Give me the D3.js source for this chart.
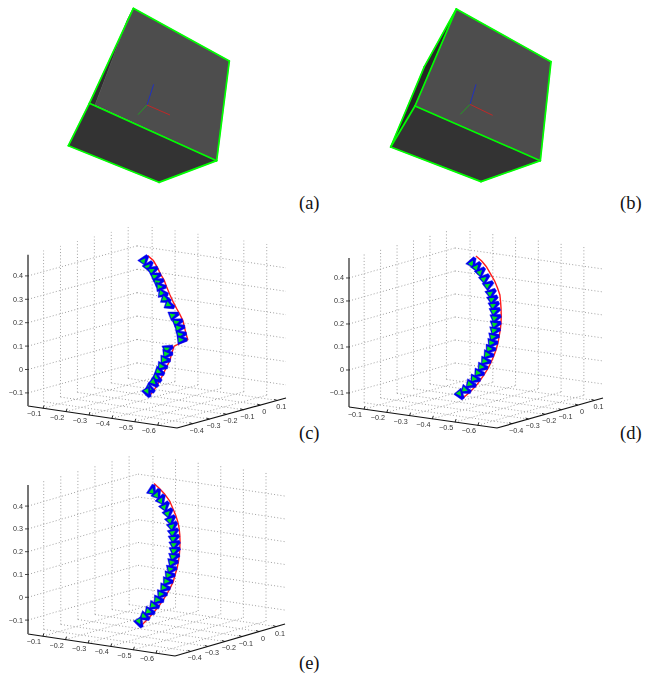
<!DOCTYPE html>
<html>
<head>
<meta charset="utf-8">
<script src="https://cdn.jsdelivr.net/npm/d3@7"></script>
<style>
  body { margin: 0; background: #fff; }
  svg { display: block; }
  .soft { filter: blur(0.4px); }
</style>
</head>
<body>
<svg id="chart" width="655" height="673"></svg>
<script>
// tick labels shared by the three trajectory plots
const xTicks = [-0.1, -0.2, -0.3, -0.4, -0.5, -0.6];
const yTicks = [-0.4, -0.3, -0.2, -0.1, 0, 0.1];
const zTicks = [-0.1, 0, 0.1, 0.2, 0.3, 0.4];

// cube outlines (a 0-600 unit box for each cube)
const cubeAX = [250, 538, 500, 327, 55, 118, 135, 232];
const cubeAY = [25, 183, 482, 547, 437, 310, 315, 60];
const cubeAFaces = [[0, 7, 6, 5], [4, 5, 2, 3], [0, 1, 2, 6, 7]];
const cubeAEdges = [[0, 1], [1, 2], [2, 3], [3, 4], [4, 5], [5, 0], [5, 2]];
const cubeAOrigin = [291, 315], cubeABlue = [311, 253], cubeARed = [360, 345], cubeAGreen = [264, 344];

const cubeBX = [259, 543, 511, 333, 62, 135, 163];
const cubeBY = [27, 185, 482, 545, 441, 318, 200];
const cubeBFaces = [[0, 5, 4, 6], [4, 5, 2, 3], [0, 1, 2, 5]];
const cubeBEdges = [[0, 1], [1, 2], [2, 3], [3, 4], [4, 6], [6, 0], [0, 5], [5, 4], [5, 2]];
const cubeBOrigin = [300, 313], cubeBBlue = [318, 253], cubeBRed = [368, 346], cubeBGreen = [271, 343];

// trajectory (c): camera centres and the red path, x and z as seen against the axes
const camCX = [-.543, -.562, -.581, -.594, -.606, -.616, -.625, -.638, -.654, -.672, -.689, -.698, -.705, -.708, -.647, -.645, -.635, -.623, -.610, -.599, -.587, -.569, -.558];
const camCZ = [.469, .444, .426, .400, .376, .354, .326, .301, .276, .233, .204, .180, .151, .128, .090, .068, .042, .014, -.010, -.036, -.056, -.082, -.096];
const pathCX = [-.559, -.584, -.602, -.616, -.631, -.642, -.657, -.672, -.686, -.698, -.713, -.720, -.727, -.735, -.675, -.664, -.657, -.642, -.628, -.613, -.599, -.584, -.566];
const pathCZ = [.487, .466, .436, .407, .383, .354, .319, .287, .261, .240, .211, .183, .154, .128, .100, .068, .040, .011, -.018, -.046, -.068, -.092, -.113];

// trajectory (d)
const camDX = [-.573, -.594, -.611, -.629, -.645, -.657, -.664, -.670, -.674, -.677, -.677, -.674, -.669, -.663, -.654, -.645, -.633, -.619, -.604, -.587, -.568, -.546, -.521];
const camDZ = [.468, .450, .428, .399, .370, .336, .309, .283, .257, .228, .200, .173, .145, .119, .092, .067, .039, .013, -.013, -.039, -.062, -.087, -.106];
const pathDX = [-.591, -.616, -.636, -.655, -.673, -.686, -.696, -.699, -.701, -.702, -.701, -.698, -.693, -.688, -.680, -.670, -.658, -.645, -.629, -.611, -.591, -.566, -.533];
const pathDZ = [.496, .474, .450, .418, .387, .355, .326, .297, .268, .236, .206, .177, .148, .119, .090, .063, .035, .009, -.017, -.043, -.069, -.095, -.123];

// trajectory (e)
const camEX = [-.578, -.599, -.618, -.634, -.649, -.660, -.668, -.672, -.675, -.678, -.678, -.675, -.669, -.663, -.655, -.646, -.634, -.621, -.606, -.587, -.567, -.546, -.523];
const camEZ = [.470, .453, .429, .400, .371, .341, .314, .286, .260, .233, .206, .179, .153, .124, .097, .070, .042, .014, -.012, -.037, -.063, -.085, -.110];
const pathEX = [-.587, -.611, -.633, -.655, -.669, -.682, -.691, -.697, -.700, -.701, -.700, -.698, -.694, -.688, -.679, -.671, -.657, -.643, -.625, -.606, -.584, -.562, -.530];
const pathEZ = [.499, .477, .453, .423, .390, .360, .331, .302, .273, .244, .214, .185, .156, .127, .097, .068, .039, .013, -.015, -.042, -.068, -.093, -.125];

const svg = d3.select("#chart");
const line = d3.line();

// Draw one of the two cubes
function drawCube(left, vx, vy, faces, faceColors, edges, origin, blue, red, green) {
  const g = svg.append("g").attr("class", "soft");
  const x = d3.scaleLinear().domain([0, 600]).range([left, left + 200]);
  const y = d3.scaleLinear().domain([0, 600]).range([0, 200]);
  const pt = i => [x(vx[i]), y(vy[i])];

  faces.forEach((f, i) => {
    g.append("path").attr("d", line(f.map(pt)) + "Z").attr("fill", faceColors[i]).attr("stroke", faceColors[i]).attr("stroke-width", 0.5);
  });
  edges.forEach(e => {
    g.append("path").attr("d", line(e.map(pt))).attr("stroke", "#00ff00").attr("stroke-width", 1.7).attr("fill", "none").attr("stroke-linecap", "round");
  });
  [[blue, "#2030c0"], [red, "#c02828"], [green, "#20a020"]].forEach(([end, c]) => {
    g.append("line")
      .attr("x1", x(origin[0])).attr("y1", y(origin[1]))
      .attr("x2", x(end[0])).attr("y2", y(end[1]))
      .attr("stroke", c).attr("stroke-width", 1);
  });
}

drawCube(50, cubeAX, cubeAY, cubeAFaces, ["#2e2e2e", "#333333", "#4d4d4d"], cubeAEdges, cubeAOrigin, cubeABlue, cubeARed, cubeAGreen);
drawCube(370, cubeBX, cubeBY, cubeBFaces, ["#262626", "#333333", "#4d4d4d"], cubeBEdges, cubeBOrigin, cubeBBlue, cubeBRed, cubeBGreen);

// Draw a 3D box plot with its trajectory. The box is a skewed projection.
function drawPlot(p, camX, camZ, pathX, pathZ) {
  const g = svg.append("g").attr("class", "soft");
  const xDom = [-0.034, -0.684], yDom = [-0.492, 0.152], zDom = [p.zMin, p.zMax];
  const fx = d3.scaleLinear().domain(xDom).range([0, 1]);
  const fy = d3.scaleLinear().domain(yDom).range([0, 1]);
  const zPx = d3.scaleLinear().domain([-0.1, 0.4]).range([p.zLow, p.zHigh]);

  const project = (x, y, z) => {
    const a = fx(x), b = fy(y);
    return [
      p.L[0] + a * (p.F[0] - p.L[0]) + b * (p.R[0] - p.F[0]),
      p.L[1] + a * (p.F[1] - p.L[1]) + b * (p.R[1] - p.F[1]) - (zPx(zDom[0]) - zPx(z))
    ];
  };

  const grid = (a, b) => {
    g.append("path").attr("d", line([a, b]))
      .attr("stroke", "#a0a0a0").attr("stroke-width", 1).attr("stroke-dasharray", "1 2.2").attr("fill", "none");
  };

  // floor
  xTicks.forEach(x => grid(project(x, yDom[0], zDom[0]), project(x, yDom[1], zDom[0])));
  yTicks.forEach(y => grid(project(xDom[0], y, zDom[0]), project(xDom[1], y, zDom[0])));
  // the two back walls
  yTicks.forEach(y => grid(project(xDom[0], y, zDom[0]), project(xDom[0], y, zDom[1])));
  xTicks.forEach(x => grid(project(x, yDom[1], zDom[0]), project(x, yDom[1], zDom[1])));
  zTicks.forEach(z => {
    grid(project(xDom[0], yDom[0], z), project(xDom[0], yDom[1], z));
    grid(project(xDom[0], yDom[1], z), project(xDom[1], yDom[1], z));
  });

  // axes
  const axis = (a, b, c, w) => g.append("path").attr("d", line([a, b])).attr("stroke", c).attr("stroke-width", w).attr("fill", "none");
  axis(project(xDom[0], yDom[0], zDom[0]), project(xDom[1], yDom[0], zDom[0]), "#111", 1.2);
  axis(project(xDom[1], yDom[0], zDom[0]), project(xDom[1], yDom[1], zDom[0]), "#111", 1.2);
  axis(project(xDom[0], yDom[0], zDom[0]), project(xDom[0], yDom[0], zDom[1]), p.zColor, p.zWidth);

  const label = (pos, txt, anchor) => g.append("text")
    .attr("x", pos[0]).attr("y", pos[1]).attr("text-anchor", anchor)
    .attr("font-family", "'Liberation Sans', sans-serif").attr("font-size", 7.2).attr("fill", "#333")
    .text(txt);
  const fmt = v => (v < 0 ? "\u2212" : "") + Math.abs(v);

  xTicks.forEach(x => {
    const a = project(x, yDom[0], zDom[0]);
    axis(a, [a[0] + 1, a[1] - 3], "#111", 0.9);
    label([a[0] - 9, a[1] + 8], fmt(x), "middle");
  });
  yTicks.forEach(y => {
    const a = project(xDom[1], y, zDom[0]);
    axis(a, [a[0] - 3, a[1] - 1], "#111", 0.9);
    label([a[0] + 4, a[1] + 9], fmt(y), "middle");
  });
  zTicks.forEach(z => {
    const a = project(xDom[0], yDom[0], z);
    axis([a[0] - 3, a[1]], [a[0] + 1, a[1]], "#333", 0.9);
    label([p.L[0] - 5, a[1] + 2.5], fmt(z), "end");
  });

  // trajectory: red path first, camera glyphs on top
  const tx = d3.scaleLinear().domain([-0.1, -0.7]).range([p.L[0] + 15, p.L[0] + 15 + 136.8]);
  const path = pathX.map((v, i) => [tx(v), zPx(pathZ[i])]);
  const cams = camX.map((v, i) => [tx(v), zPx(camZ[i])]);

  g.append("path").attr("d", line(path)).attr("fill", "none").attr("stroke", "#ff1a1a").attr("stroke-width", 1.4);

  cams.forEach((c, i) => {
    const dx = path[i][0] - c[0], dy = path[i][1] - c[1];
    const deg = Math.atan2(dy, dx) * 180 / Math.PI;
    const cam = g.append("g").attr("transform", "translate(" + c[0] + "," + c[1] + ") rotate(" + deg + ")");
    cam.append("path").attr("d", "M5.6,-1.6L5.6,1.6L-3.6,5L-4.6,-4.4Z").attr("fill", "#0000f0").attr("stroke", "#0000f0").attr("stroke-width", 0.4);
    cam.append("path").attr("d", "M2.2,0L-3,2.8L-3.2,-2.4Z").attr("fill", "#00e020");
  });
}

drawPlot({ L: [28, 406], F: [177, 428], R: [286, 398], zLow: 393, zHigh: 276, zMin: -0.156, zMax: 0.49, zColor: "#666", zWidth: 1.8 }, camCX, camCZ, pathCX, pathCZ);
drawPlot({ L: [349, 407], F: [497, 428], R: [603, 398], zLow: 393, zHigh: 278, zMin: -0.161, zMax: 0.487, zColor: "#111", zWidth: 1.1 }, camDX, camDZ, pathDX, pathDZ);
drawPlot({ L: [28, 634], F: [175, 656], R: [285, 624], zLow: 620, zHigh: 506, zMin: -0.161, zMax: 0.492, zColor: "#666", zWidth: 1.8 }, camEX, camEZ, pathEX, pathEZ);

// panel letters
const panelLetters = ["(a)", "(b)", "(c)", "(d)", "(e)"];
const letterX = [299, 620, 299, 620, 299];
const letterY = [209, 209, 439, 439, 669];
panelLetters.forEach((t, i) => {
  svg.append("text").attr("x", letterX[i]).attr("y", letterY[i])
    .attr("font-family", "'Liberation Serif', serif").attr("font-size", 18.5).attr("fill", "#111").text(t);
});
</script>
</body>
</html>
